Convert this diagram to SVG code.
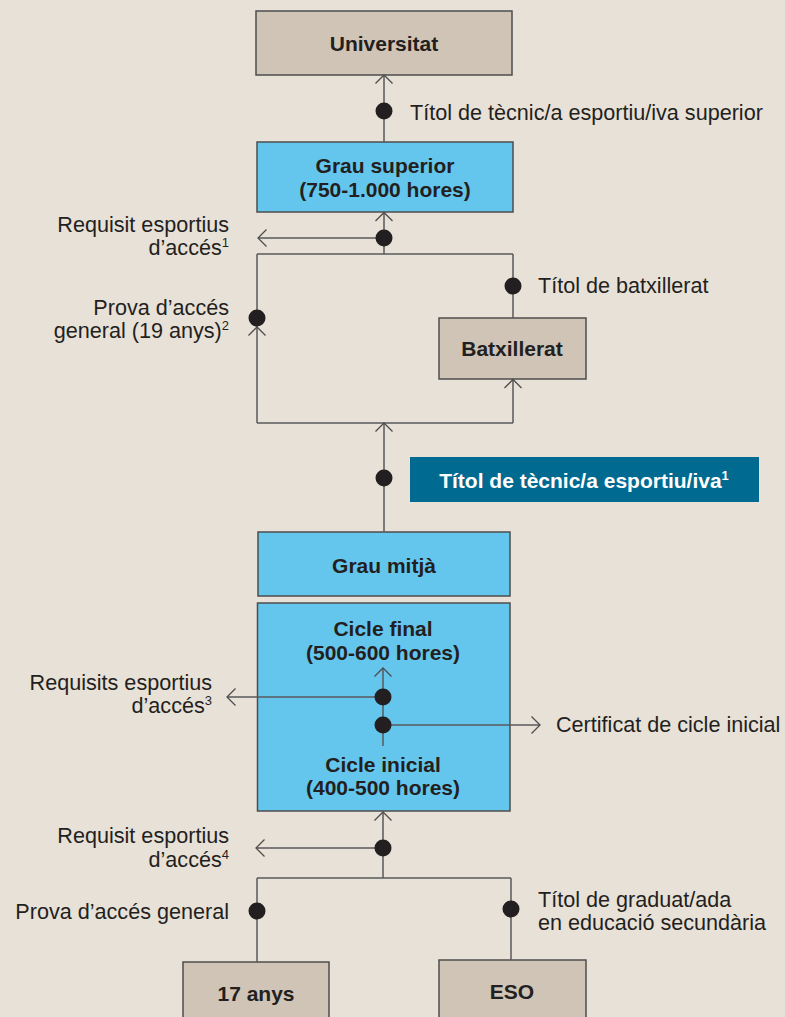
<svg xmlns="http://www.w3.org/2000/svg" width="785" height="1017" viewBox="0 0 785 1017">
<style>
text{font-family:"Liberation Sans",Arial,Helvetica,sans-serif;font-size:21.6px;fill:#231f20}
.b{font-weight:bold;font-size:21px}
.m{text-anchor:middle}
.e{text-anchor:end}
.w{fill:#ffffff}
.tan{fill:#cfc4b6;stroke:#4d4d4d;stroke-width:1.5}
.blue{fill:#64c6ed;stroke:#4d4d4d;stroke-width:1.5}
.ln{fill:none;stroke:#58595b;stroke-width:1.5}
.dot{fill:#231f20}
.sup{font-size:13px}
</style>
<defs>
<marker id="arr" viewBox="-10 -10 12 20" refX="0" refY="0" markerWidth="12" markerHeight="20" markerUnits="userSpaceOnUse" orient="auto" overflow="visible">
<path d="M-8.5,-8.5 L0,0 L-8.5,8.5" fill="none" stroke="#4d4d4d" stroke-width="1.3"/>
</marker>
</defs>
<rect width="785" height="1017" fill="#e8e1d7"/>

<g id="universitat">
<rect class="tan" x="256" y="11" width="256" height="64"/>
<text class="b m" x="384" y="51">Universitat</text>
</g>
<g id="grau-superior">
<rect class="blue" x="257" y="142" width="256" height="70"/>
<text class="b m" x="385" y="173">Grau superior</text>
<text class="b m" x="385" y="197">(750-1.000 hores)</text>
</g>
<g id="batxillerat">
<rect class="tan" x="439" y="318" width="147" height="61"/>
<text class="b m" x="512" y="356">Batxillerat</text>
</g>
<g id="titol-tecnic">
<rect x="410" y="457" width="349" height="45" fill="#006a91"/>
<text class="b m w" x="584" y="488">Títol de tècnic/a esportiu/iva<tspan class="sup" dy="-8">1</tspan></text>
</g>
<g id="grau-mitja">
<rect class="blue" x="258" y="532" width="252" height="64"/>
<text class="b m" x="384" y="573">Grau mitjà</text>
</g>
<g id="cicles">
<rect class="blue" x="257.5" y="603" width="252.5" height="208"/>
<text class="b m" x="383" y="636">Cicle final</text>
<text class="b m" x="383" y="660">(500-600 hores)</text>
<text class="b m" x="383" y="772">Cicle inicial</text>
<text class="b m" x="383" y="795">(400-500 hores)</text>
</g>
<g id="disset-anys">
<rect class="tan" x="183" y="962" width="146" height="70"/>
<text class="b m" x="256" y="1001">17 anys</text>
</g>
<g id="eso">
<rect class="tan" x="439" y="960" width="147" height="72"/>
<text class="b m" x="512" y="999">ESO</text>
</g>

<g id="connectors">
<path class="ln" d="M384,142 V75" marker-end="url(#arr)"/>
<path class="ln" d="M384,254 V212.5" marker-end="url(#arr)"/>
<path class="ln" d="M384,238 H258" marker-end="url(#arr)"/>
<path class="ln" d="M257,254 H513 M257,327 V254 M513,254 V318 M257,423 H513"/>
<path class="ln" d="M257,423 V327" marker-end="url(#arr)"/>
<path class="ln" d="M513,423 V379.5" marker-end="url(#arr)"/>
<path class="ln" d="M384,532 V423" marker-end="url(#arr)"/>
<path class="ln" d="M383,746 V668" marker-end="url(#arr)"/>
<path class="ln" d="M383,697 H227" marker-end="url(#arr)"/>
<path class="ln" d="M383,725 H540" marker-end="url(#arr)"/>
<path class="ln" d="M383,878 V812" marker-end="url(#arr)"/>
<path class="ln" d="M383,848 H256" marker-end="url(#arr)"/>
<path class="ln" d="M257,878 H511 M257,878 V962 M511,878 V960"/>
<circle class="dot" cx="384" cy="111" r="8.5"/>
<circle class="dot" cx="384" cy="238" r="8.5"/>
<circle class="dot" cx="513" cy="286" r="8.5"/>
<circle class="dot" cx="257" cy="318" r="8.5"/>
<circle class="dot" cx="384" cy="478" r="8.5"/>
<circle class="dot" cx="383" cy="697" r="8.5"/>
<circle class="dot" cx="383" cy="725" r="8.5"/>
<circle class="dot" cx="383" cy="848" r="8.5"/>
<circle class="dot" cx="257" cy="911" r="8.5"/>
<circle class="dot" cx="511" cy="909" r="8.5"/>
</g>

<g id="labels">
<text x="410" y="120">Títol de tècnic/a esportiu/iva superior</text>
<text x="538" y="293">Títol de batxillerat</text>
<text class="e" x="229" y="232">Requisit esportius</text>
<text class="e" x="229" y="255">d’accés<tspan class="sup" dy="-8">1</tspan></text>
<text class="e" x="229" y="315">Prova d’accés</text>
<text class="e" x="229" y="338">general (19 anys)<tspan class="sup" dy="-8">2</tspan></text>
<text class="e" x="212" y="690">Requisits esportius</text>
<text class="e" x="212" y="713">d’accés<tspan class="sup" dy="-8">3</tspan></text>
<text x="556" y="732">Certificat de cicle inicial</text>
<text class="e" x="229" y="843">Requisit esportius</text>
<text class="e" x="229" y="867">d’accés<tspan class="sup" dy="-8">4</tspan></text>
<text class="e" x="229" y="919">Prova d’accés general</text>
<text x="538" y="907">Títol de graduat/ada</text>
<text x="538" y="930">en educació secundària</text>
</g>
</svg>
